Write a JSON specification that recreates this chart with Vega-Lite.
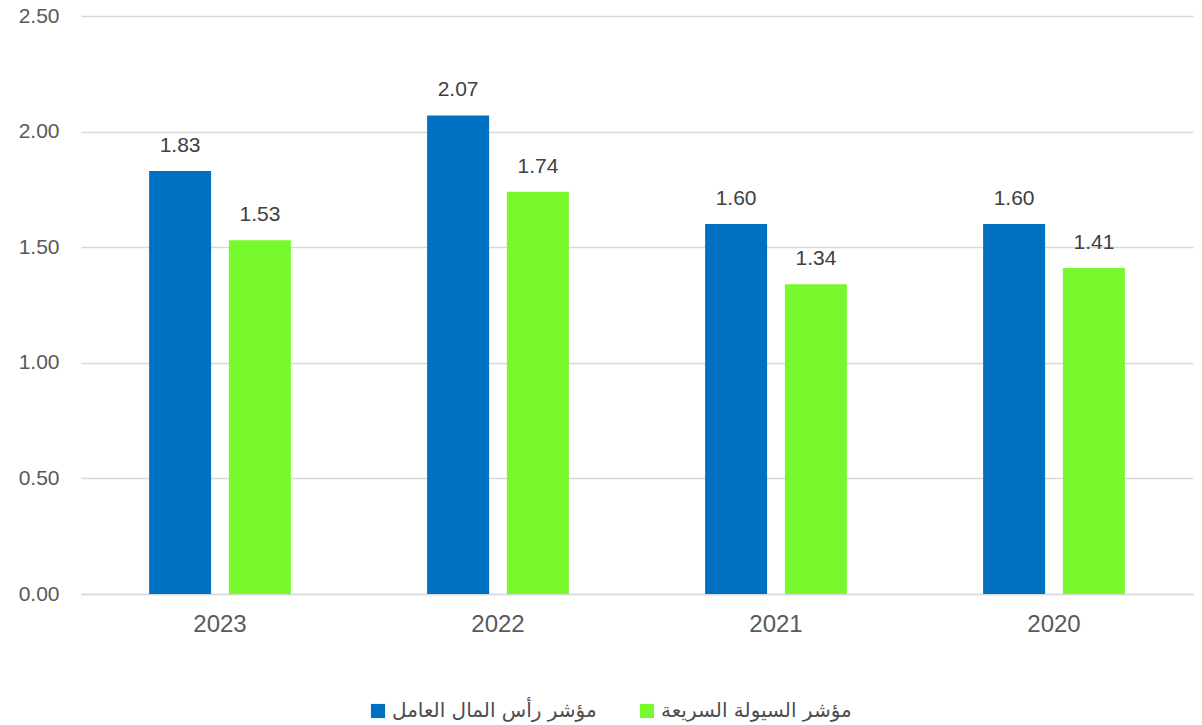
{
  "$schema": "https://vega.github.io/schema/vega-lite/v6.json",
  "width": 1112,
  "height": 578,
  "autosize": {"type": "none"},
  "padding": {"left": 81, "top": 16, "right": 9, "bottom": 131},
  "data": {
    "values": [
      {"year": "2023", "series": "مؤشر رأس المال العامل", "value": 1.83},
      {"year": "2023", "series": "مؤشر السيولة السريعة", "value": 1.53},
      {"year": "2022", "series": "مؤشر رأس المال العامل", "value": 2.07},
      {"year": "2022", "series": "مؤشر السيولة السريعة", "value": 1.74},
      {"year": "2021", "series": "مؤشر رأس المال العامل", "value": 1.60},
      {"year": "2021", "series": "مؤشر السيولة السريعة", "value": 1.34},
      {"year": "2020", "series": "مؤشر رأس المال العامل", "value": 1.60},
      {"year": "2020", "series": "مؤشر السيولة السريعة", "value": 1.41}
    ]
  },
  "encoding": {
    "x": {
      "field": "year",
      "type": "nominal",
      "sort": ["2023", "2022", "2021", "2020"],
      "scale": {"paddingInner": 0.49, "paddingOuter": 0.245},
      "axis": {
        "title": null,
        "labelAngle": 0,
        "labelFontSize": 24,
        "labelColor": "#595959",
        "labelPadding": 18,
        "ticks": false,
        "domainColor": "#d9d9d9",
        "domainWidth": 1.5
      }
    },
    "xOffset": {
      "field": "series",
      "sort": ["مؤشر رأس المال العامل", "مؤشر السيولة السريعة"],
      "scale": {"paddingInner": 0.223, "paddingOuter": 0}
    },
    "y": {
      "field": "value",
      "type": "quantitative",
      "scale": {"domain": [0, 2.5]},
      "axis": {
        "title": null,
        "values": [0, 0.5, 1, 1.5, 2, 2.5],
        "format": ".2f",
        "labelFontSize": 21,
        "labelColor": "#595959",
        "labelPadding": 22,
        "ticks": false,
        "domain": false,
        "gridColor": "#d9d9d9",
        "gridWidth": 1.3
      }
    }
  },
  "layer": [
    {
      "mark": {"type": "bar"},
      "encoding": {
        "color": {
          "field": "series",
          "type": "nominal",
          "sort": ["مؤشر رأس المال العامل", "مؤشر السيولة السريعة"],
          "scale": {"range": ["#0070c0", "#77f92d"]},
          "legend": {
            "title": null,
            "orient": "none",
            "legendX": 287,
            "legendY": 685,
            "direction": "horizontal",
            "symbolType": "square",
            "symbolSize": 200,
            "symbolStrokeWidth": 0,
            "labelFontSize": 20,
            "labelColor": "#4d4d4d",
            "labelFont": "DejaVu Sans",
            "labelLimit": 0,
            "columnPadding": 40
          }
        }
      }
    },
    {
      "mark": {"type": "text", "dy": -25, "fontSize": 21, "color": "#404040"},
      "encoding": {
        "text": {"field": "value", "type": "quantitative", "format": ".2f"}
      }
    }
  ],
  "config": {
    "view": {"stroke": null},
    "font": "Liberation Sans"
  }
}
